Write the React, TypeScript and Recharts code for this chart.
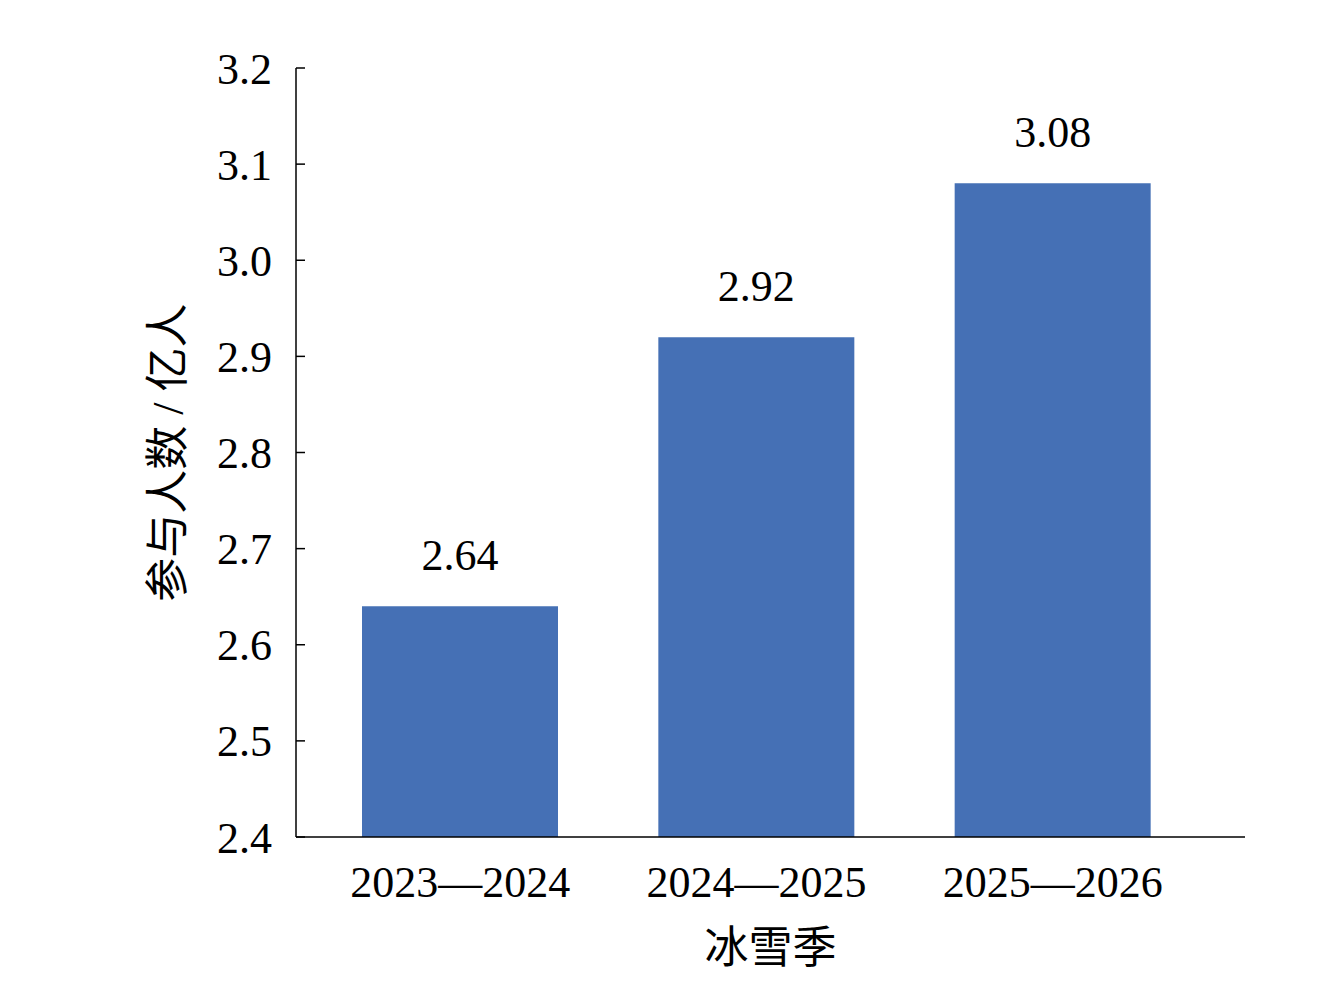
import React from 'react';
import { BarChart, Bar, XAxis, YAxis, LabelList, Label } from 'recharts';

const seasons = ['2023—2024', '2024—2025', '2025—2026'];
const participants = [2.64, 2.92, 3.08];
const yTicks = [2.4, 2.5, 2.6, 2.7, 2.8, 2.9, 3.0, 3.1, 3.2];

const data = seasons.map((season, i) => ({ season, value: participants[i] }));

const FONT = 'Liberation Serif';
const CJK = 'Liberation Serif, Noto Sans CJK SC';

export default function App() {
  return (
    <div style={{ position: 'absolute', left: 0, top: 0, background: '#fff', fontFamily: FONT }}>
      <BarChart
        width={1318}
        height={984}
        data={data}
        margin={{ top: 68, right: 73, bottom: 0, left: 0 }}
        barSize={196}
      >
        <XAxis
          dataKey="season"
          height={147}
          padding={{ left: 16, right: 44 }}
          axisLine={{ stroke: '#000', strokeWidth: 1.5 }}
          tickLine={false}
          tickSize={0}
          tickMargin={29}
          tick={{ fill: '#000', fontSize: 44, fontFamily: FONT }}
        >
          <Label
            content={({ viewBox }: any) => (
              <text
                x={viewBox.x + viewBox.width / 2}
                y={948}
                textAnchor="middle"
                dominantBaseline="central"
                fontSize={44}
                style={{ fontFamily: CJK }}
                fill="#000"
              >
                冰雪季
              </text>
            )}
          />
        </XAxis>
        <YAxis
          width={296}
          domain={[2.4, 3.2]}
          ticks={yTicks}
          interval={0}
          allowDataOverflow
          tickFormatter={(v: number) => v.toFixed(1)}
          axisLine={{ stroke: '#000', strokeWidth: 1.5 }}
          tickLine={{ stroke: '#000', strokeWidth: 1.5 }}
          tickSize={-9}
          tickMargin={33}
          tick={{ fill: '#000', fontSize: 44, fontFamily: FONT }}
        >
          <Label
            content={({ viewBox }: any) => {
              const cx = 168;
              const cy = viewBox.y + viewBox.height / 2;
              return (
                <text
                  x={cx}
                  y={cy}
                  transform={`rotate(-90, ${cx}, ${cy})`}
                  textAnchor="middle"
                  dominantBaseline="central"
                  fontSize={44}
                  style={{ fontFamily: CJK }}
                  fill="#000"
                >
                  参与人数 / 亿人
                </text>
              );
            }}
          />
        </YAxis>
        <Bar dataKey="value" fill="#4570b5" isAnimationActive={false}>
          <LabelList
            dataKey="value"
            position="top"
            offset={36}
            formatter={(v: number) => v.toFixed(2)}
            style={{ fill: '#000', fontSize: 44, fontFamily: FONT }}
          />
        </Bar>
      </BarChart>
    </div>
  );
}
